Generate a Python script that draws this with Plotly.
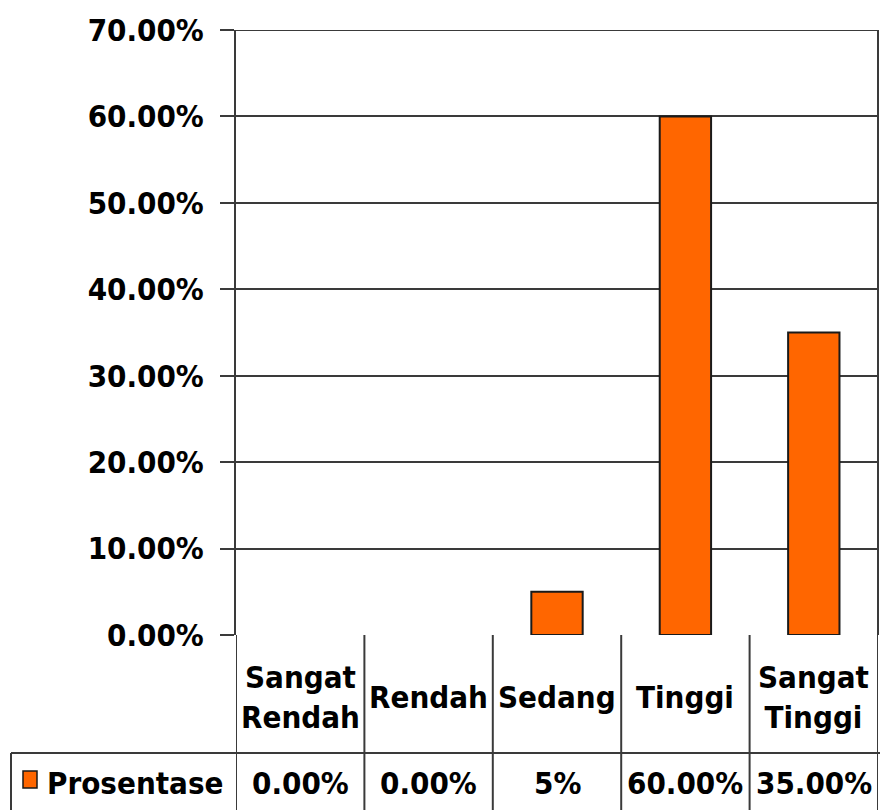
import plotly.graph_objects as go

categories = ["Sangat<br>Rendah", "Rendah", "Sedang", "Tinggi", "Sangat<br>Tinggi"]
values = [0.0, 0.0, 0.05, 0.60, 0.35]
table_labels = ["0.00%", "0.00%", "5%", "60.00%", "35.00%"]
series_name = "Prosentase"
y_ticks = [0, 0.1, 0.2, 0.3, 0.4, 0.5, 0.6, 0.7]

W, H = 880, 810
L, R, T, B = 236, 2, 30, 175
pw, ph = W - L - R, H - T - B

def px_x(x):
    return (x - L) / pw

def px_y(y):
    return (H - B - y) / ph

FAM = "DejaVu Sans Condensed, DejaVu Sans"
FONT = dict(family=FAM, size=31, color="black")
LINE = "#3a3a3a"
ORANGE = "#FF6600"

fig = go.Figure()
fig.add_trace(go.Bar(
    x=list(range(len(values))), y=values, width=0.4,
    marker=dict(color=ORANGE,
                line=dict(color="#1a1a1a", width=[0 if v == 0 else 2 for v in values])),
    name=series_name, showlegend=False,
))

shapes = []
n = len(categories)
for i in range(n + 1):
    shapes.append(dict(type="line", xref="x", yref="paper", x0=i - 0.5, x1=i - 0.5,
                       y0=0, y1=px_y(H + 5), line=dict(color=LINE, width=2)))
shapes.append(dict(type="line", xref="paper", yref="paper", x0=px_x(11), x1=1.01,
                   y0=px_y(753), y1=px_y(753), line=dict(color=LINE, width=2)))
shapes.append(dict(type="line", xref="paper", yref="paper", x0=px_x(11), x1=px_x(11),
                   y0=px_y(753), y1=px_y(H + 5), line=dict(color=LINE, width=2)))
shapes.append(dict(type="rect", xref="paper", yref="paper", x0=px_x(23), x1=px_x(37),
                   y0=px_y(771), y1=px_y(788), fillcolor=ORANGE,
                   line=dict(color="#1a1a1a", width=1.5)))
shapes.append(dict(type="line", xref="paper", yref="paper", x0=1, x1=1, y0=0, y1=1,
                   line=dict(color=LINE, width=2)))
shapes.append(dict(type="line", xref="paper", yref="y", x0=0, x1=1, y0=y_ticks[-1], y1=y_ticks[-1],
                   line=dict(color=LINE, width=2)))

annotations = []
for i, c in enumerate(categories):
    annotations.append(dict(x=i, y=px_y(697), xref="x", yref="paper", text="<b>%s</b>" % c,
                            showarrow=False, font=FONT, xanchor="center", yanchor="middle"))
    annotations.append(dict(x=i, y=px_y(783), xref="x", yref="paper",
                            text="<b>%s</b>" % table_labels[i],
                            showarrow=False, font=FONT, xanchor="center", yanchor="middle"))
annotations.append(dict(x=px_x(45), y=px_y(783), xref="paper", yref="paper",
                        text="<b>%s</b>" % series_name, showarrow=False, font=FONT,
                        xanchor="left", yanchor="middle"))

fig.update_layout(
    width=W, height=H,
    margin=dict(l=L, r=R, t=T, b=B, pad=0),
    paper_bgcolor="white", plot_bgcolor="white",
    shapes=shapes, annotations=annotations,
    xaxis=dict(range=[-0.5, n - 0.5], showticklabels=False, showgrid=False,
               zeroline=False, showline=False, ticks=""),
    yaxis=dict(range=[0, 0.7], tickvals=y_ticks, tickformat=".2%",
               showgrid=True, gridcolor=LINE, gridwidth=2,
               showline=True, linecolor=LINE, linewidth=2,
               ticks="outside", ticklen=14, tickcolor=LINE, tickwidth=2,
               ticklabelstandoff=10, zeroline=False,
               tickfont=dict(family=FAM, size=31, color="black", weight="bold")),
)

fig.write_html("out.html")
